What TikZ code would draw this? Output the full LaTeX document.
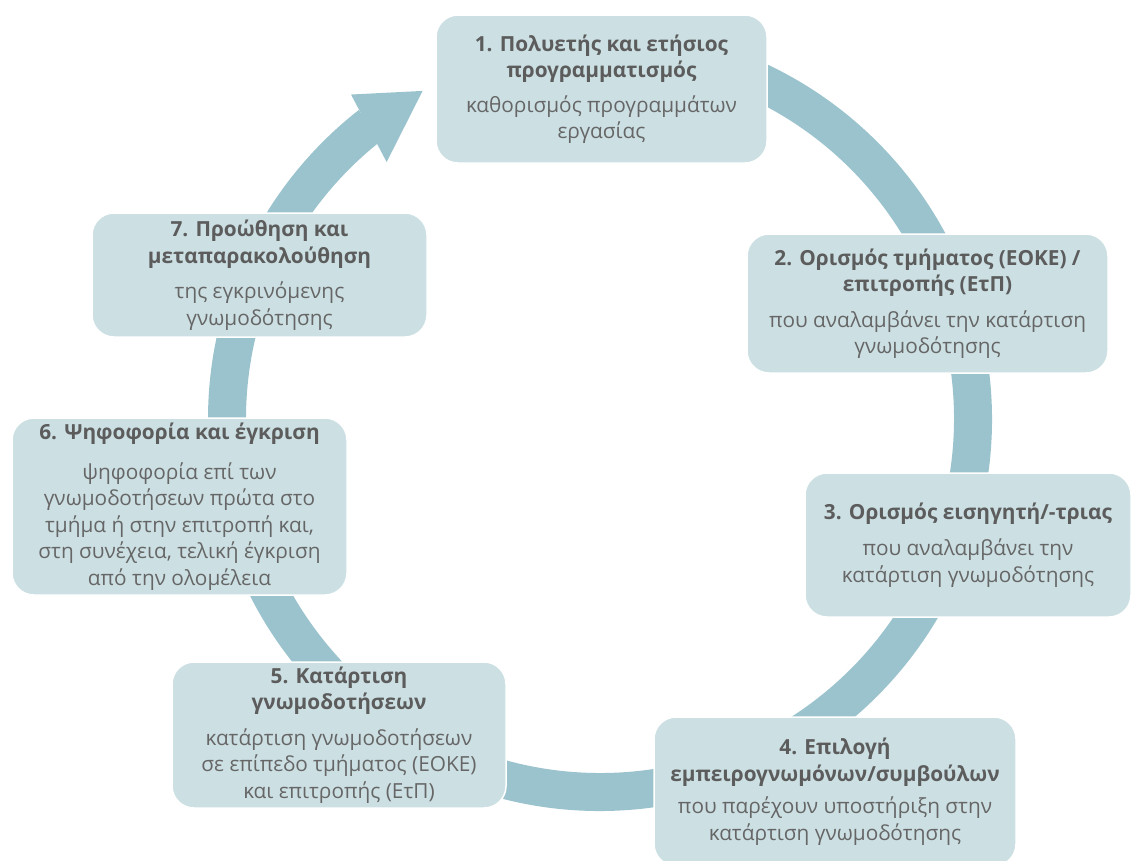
\documentclass[tikz,border=0pt]{standalone}
\usepackage{fontspec}
\setmainfont{Open Sans}
\usetikzlibrary{calc}
\definecolor{bandcol}{HTML}{9BC3CD}
\definecolor{boxcol}{HTML}{CCE0E4}
\definecolor{txtcol}{HTML}{666666}
\definecolor{ttlcol}{HTML}{5C5C5C}
\newcommand{\bt}[1]{\textbf{\textcolor{ttlcol}{#1}}}
\begin{document}
\begin{tikzpicture}[x=1pt,y=1pt,
  stepbox/.style={rounded corners=22pt, fill=boxcol, draw=white, line width=1.5pt,
    inner sep=0pt, align=center, text=txtcol, font=\fontsize{20.8}{26.5}\selectfont},
  ringband/.style={fill=bandcol}]
\useasboundingbox (0,0) rectangle (1131,-860);
\coordinate (c) at (600,-419);
% ring band
\fill[ringband] ($(c)+(95:392)$) arc[start angle=95, end angle=-232, radius=392]
  -- ($(c)+(-232:354)$) arc[start angle=-232, end angle=95, radius=354] -- cycle;
% arrow head
\fill[ringband] ($(c)+(127.5:409)$) -- ($(c)+(118.4:373)$) -- ($(c)+(129.7:334)$) -- cycle;
% boxes
\node[stepbox, minimum width=331pt, minimum height=148pt] (b1) at (601.5,-89)
  {\bt{1. Πολυετής και ετήσιος}\\\bt{προγραμματισμός}\\[8pt]καθορισμός προγραμμάτων\\εργασίας};
\node[stepbox, minimum width=361pt, minimum height=139pt] (b2) at (927.5,-303.5)
  {\bt{2. Ορισμός τμήματος (ΕΟΚΕ) /}\\\bt{επιτροπής (ΕτΠ)}\\[9pt]που αναλαμβάνει την κατάρτιση\\γνωμοδότησης};
\node[stepbox, minimum width=326pt, minimum height=144pt] (b3) at (968,-545)
  {\bt{3. Ορισμός εισηγητή/-τριας}\\[10pt]που αναλαμβάνει την\\κατάρτιση γνωμοδότησης};
\node[stepbox, minimum width=362pt, minimum height=149pt] (b4) at (835,-791.5)
  {\bt{4. Επιλογή}\\\bt{εμπειρογνωμόνων/συμβούλων}\\[6pt]που παρέχουν υποστήριξη στην\\κατάρτιση γνωμοδότησης};
\node[stepbox, minimum width=334pt, minimum height=146pt] (b5) at (339,-735)
  {\bt{5. Κατάρτιση}\\\bt{γνωμοδοτήσεων}\\[9pt]κατάρτιση γνωμοδοτήσεων\\σε επίπεδο τμήματος (ΕΟΚΕ)\\και επιτροπής (ΕτΠ)};
\node[stepbox, minimum width=335pt, minimum height=177pt] (b6) at (179.5,-506.5)
  {\bt{6. Ψηφοφορία και έγκριση}\\[13pt]ψηφοφορία επί των\\γνωμοδοτήσεων πρώτα στο\\τμήμα ή στην επιτροπή και,\\στη συνέχεια, τελική έγκριση\\από την ολομέλεια};
\node[stepbox, minimum width=335pt, minimum height=124pt] (b7) at (259.5,-275)
  {\bt{7. Προώθηση και}\\\bt{μεταπαρακολούθηση}\\[9pt]της εγκρινόμενης\\γνωμοδότησης};
\end{tikzpicture}
\end{document}
